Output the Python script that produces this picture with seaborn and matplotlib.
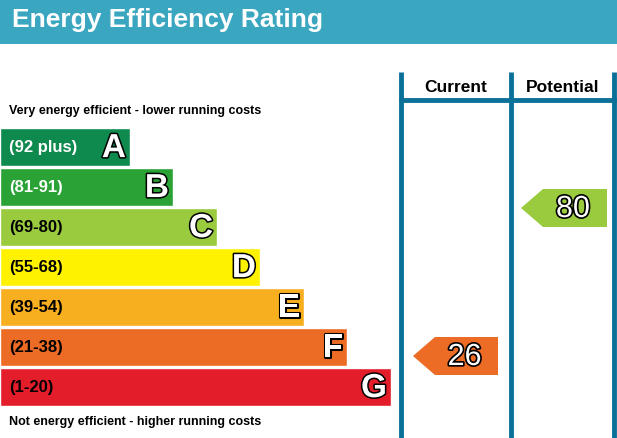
import matplotlib
matplotlib.use("Agg")
import matplotlib.pyplot as plt
import matplotlib.patheffects as pe
from matplotlib.patches import Polygon, Rectangle
import seaborn as sns

ranges = ["(92 plus)", "(81-91)", "(69-80)", "(55-68)", "(39-54)", "(21-38)", "(1-20)"]
letters = ["A", "B", "C", "D", "E", "F", "G"]
colors = ["#0f8a4e", "#2ba235", "#9acb3e", "#fff200", "#f7ae1f", "#ec6b25", "#e31d2a"]
label_colors = ["white", "white", "black", "black", "black", "black", "black"]
bar_ends = [130, 173, 217, 260, 304, 347, 391]
current_value, current_band = 26, 5
potential_value, potential_band = 80, 2
teal = "#3aa6bf"
col_color = "#0b7199"

sns.set_theme(style="white")
plt.rcParams['font.family'] = ['Liberation Sans', 'DejaVu Sans']

W, H = 617, 439
fig = plt.figure(figsize=(W / 100, H / 100), dpi=100)
ax = fig.add_axes([0, 0, 1, 1])
ax.set_xlim(0, W); ax.set_ylim(H, 0); ax.axis("off")

# header
ax.add_patch(Rectangle((0, 0), W, 45, color=teal, lw=0))
ax.text(12, 20, "Energy Efficiency Rating", color="white", fontsize=19, fontweight="bold", va="center")

# columns
for x in (401, 511, 614):
    ax.plot([x, x], [73, H], color=col_color, lw=3.5, solid_capstyle="butt")
ax.plot([401, W], [101, 101], color=col_color, lw=3.5)
ax.text(456, 87, "Current", fontsize=12.5, fontweight="bold", ha="center", va="center", color="black")
ax.text(563, 87, "Potential", fontsize=12.5, fontweight="bold", ha="center", va="center", color="black")
ax.text(9, 111, "Very energy efficient - lower running costs", fontsize=9, fontweight="bold", va="center", color="black")
ax.text(9, 422, "Not energy efficient - higher running costs", fontsize=9, fontweight="bold", va="center", color="black")

# bars via seaborn
top, bottom = 128, 408
bx = fig.add_axes([0, 1 - bottom / H, 400 / W, (bottom - top) / H])
sns.barplot(x=bar_ends, y=letters, hue=letters, palette=colors, orient="h", width=0.95,
            ax=bx, legend=False, saturation=1)
bx.set_xlim(0, 400); bx.axis("off")
stroke = [pe.withStroke(linewidth=2.2, foreground="black")]
for i, (r, l, e, lc) in enumerate(zip(ranges, letters, bar_ends, label_colors)):
    bx.text(9, i, r, color=lc, fontsize=12, fontweight="bold", va="center")
    bx.text(e - 4, i + 0.04, l, color="white", fontsize=24, fontweight="bold", ha="right",
            va="center", path_effects=stroke)

def arrow(x0, x1, yc, band, value):
    h = 19
    pts = [(x0, yc), (x0 + 22, yc - h), (x1, yc - h), (x1, yc + h), (x0 + 22, yc + h)]
    ax.add_patch(Polygon(pts, closed=True, color=colors[band], lw=0))
    ax.text((x0 + x1) / 2 + 9, yc + 1, str(value), color="white", fontsize=22, ha="center",
            va="center", path_effects=[pe.withStroke(linewidth=2.4, foreground="black")])

arrow(413, 498, 357, current_band, current_value)
arrow(521, 607, 209, potential_band, potential_value)

fig.savefig("out.png", dpi=100)
